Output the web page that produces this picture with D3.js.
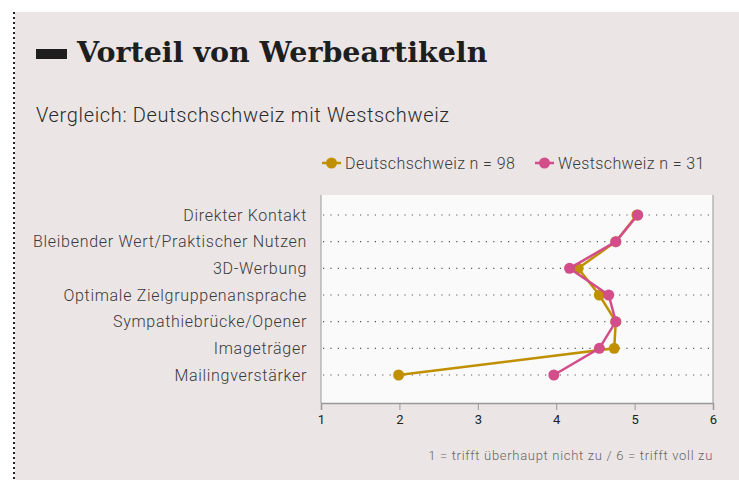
<!DOCTYPE html>
<html>
<head>
<meta charset="utf-8">
<script src="https://cdn.jsdelivr.net/npm/d3@7"></script>
<style>
  body { margin: 0; background: #fff; }
  svg { display: block; }
</style>
</head>
<body>
<svg id="chart"></svg>
<script>
// Chart data
const categories = [
    'Direkter Kontakt',
    'Bleibender Wert/Praktischer Nutzen',
    '3D-Werbung',
    'Optimale Zielgruppenansprache',
    'Sympathiebrücke/Opener',
    'Imageträger',
    'Mailingverstärker'
];
const deutschschweiz = [5.03, 4.76, 4.28, 4.55, 4.76, 4.74, 1.99];
const westschweiz = [5.04, 4.76, 4.17, 4.67, 4.76, 4.55, 3.97];
const seriesNames = ['Deutschschweiz n = 98', 'Westschweiz n = 31'];
const seriesColors = ['#c09000', '#d24d8a'];
const xTicks = [1, 2, 3, 4, 5, 6];

const width = 739;
const height = 480;

let svg = d3.select('#chart')
    .attr('width', width)
    .attr('height', height);

// Panel background and dotted left border
svg.append('rect')
    .attr('x', 15).attr('y', 12)
    .attr('width', width - 15).attr('height', height - 12)
    .attr('fill', '#ebe5e5');
svg.append('line')
    .attr('x1', 14).attr('x2', 14)
    .attr('y1', 12).attr('y2', height)
    .attr('stroke', '#222')
    .attr('stroke-width', 2)
    .attr('stroke-dasharray', '2,3');

// Title
svg.append('rect')
    .attr('x', 36).attr('y', 49)
    .attr('width', 31).attr('height', 10)
    .attr('fill', '#1e1e1e');
svg.append('text')
    .attr('x', 77).attr('y', 62)
    .attr('font-family', 'DejaVu Serif')
    .attr('font-weight', 'bold')
    .attr('font-size', 28.5)
    .attr('fill', '#1e1e1e')
    .text('Vorteil von Werbeartikeln');

svg.append('text')
    .attr('x', 36).attr('y', 122)
    .attr('font-family', 'Roboto')
    .attr('font-weight', 300)
    .attr('font-size', 20)
    .attr('letter-spacing', 0.65)
    .attr('fill', '#2a2a2a')
    .text('Vergleich: Deutschschweiz mit Westschweiz');

// Scales
const plot = {left: 321, right: 713, top: 195, bottom: 403};

let x = d3.scaleLinear()
    .domain([1, 6])
    .range([plot.left, plot.right]);

let y = d3.scalePoint()
    .domain(categories)
    .range([215, 375]);

// Plot background
svg.append('rect')
    .attr('x', plot.left).attr('y', plot.top)
    .attr('width', plot.right - plot.left)
    .attr('height', plot.bottom - plot.top)
    .attr('fill', '#fafafa');
svg.append('line')
    .attr('x1', plot.left).attr('x2', plot.left)
    .attr('y1', plot.top).attr('y2', plot.bottom)
    .attr('stroke', '#999');
svg.append('line')
    .attr('x1', plot.right).attr('x2', plot.right)
    .attr('y1', plot.top).attr('y2', plot.bottom)
    .attr('stroke', '#999');

// Dotted gridlines
svg.append('g')
    .selectAll('line')
    .data(categories)
    .enter()
    .append('line')
    .attr('x1', plot.left + 2).attr('x2', plot.right)
    .attr('y1', d => y(d)).attr('y2', d => y(d))
    .attr('stroke', '#555')
    .attr('stroke-width', 1.2)
    .attr('stroke-dasharray', '1.2,6.2');

// Category labels
svg.append('g')
    .selectAll('text')
    .data(categories)
    .enter()
    .append('text')
    .attr('x', 307)
    .attr('y', d => y(d))
    .attr('dy', '0.35em')
    .attr('text-anchor', 'end')
    .attr('font-family', 'Roboto')
    .attr('font-weight', 300)
    .attr('font-size', 16)
    .attr('letter-spacing', 0.7)
    .attr('fill', '#3a3a3a')
    .text(d => d);

// Bottom axis
let xAxis = svg.append('g')
    .attr('transform', 'translate(0,' + plot.bottom + ')')
    .call(d3.axisBottom(x).tickValues(xTicks).tickFormat(d3.format('d')).tickSize(7).tickPadding(5));
xAxis.select('.domain').attr('stroke', '#999').attr('stroke-width', 1.5);
xAxis.selectAll('.tick line').attr('stroke', '#999');
xAxis.selectAll('.tick text')
    .attr('font-family', 'Roboto')
    .attr('font-size', 13)
    .attr('fill', '#222');

// Series lines and markers
const seriesData = [deutschschweiz, westschweiz];
let line = d3.line()
    .x(d => x(d.v))
    .y(d => y(d.c));

seriesData.forEach((vals, i) => {
    let pts = vals.map((v, j) => ({v: v, c: categories[j]}));
    svg.append('path')
        .datum(pts)
        .attr('d', line)
        .attr('fill', 'none')
        .attr('stroke', seriesColors[i])
        .attr('stroke-width', 2.5);
    svg.append('g')
        .selectAll('circle')
        .data(pts)
        .enter()
        .append('circle')
        .attr('cx', d => x(d.v))
        .attr('cy', d => y(d.c))
        .attr('r', 5.5)
        .attr('fill', seriesColors[i]);
});

// Legend
const legendX = [322, 535];
seriesNames.forEach((name, i) => {
    let g = svg.append('g').attr('transform', 'translate(' + legendX[i] + ',163)');
    g.append('line')
        .attr('x1', 0).attr('x2', 19)
        .attr('stroke', seriesColors[i])
        .attr('stroke-width', 2.5);
    g.append('circle')
        .attr('cx', 9.5).attr('r', 5.5)
        .attr('fill', seriesColors[i]);
    g.append('text')
        .attr('x', 23)
        .attr('dy', '0.35em')
        .attr('font-family', 'Roboto')
        .attr('font-weight', 300)
        .attr('font-size', 16)
        .attr('letter-spacing', 0.4)
        .attr('fill', '#3a3a3a')
        .text(name);
});

// Footnote
svg.append('text')
    .attr('x', plot.right).attr('y', 460)
    .attr('text-anchor', 'end')
    .attr('font-family', 'Roboto')
    .attr('font-weight', 300)
    .attr('font-size', 13)
    .attr('letter-spacing', 0.7)
    .attr('fill', '#666')
    .text('1 = trifft überhaupt nicht zu / 6 = trifft voll zu');
</script>
</body>
</html>
